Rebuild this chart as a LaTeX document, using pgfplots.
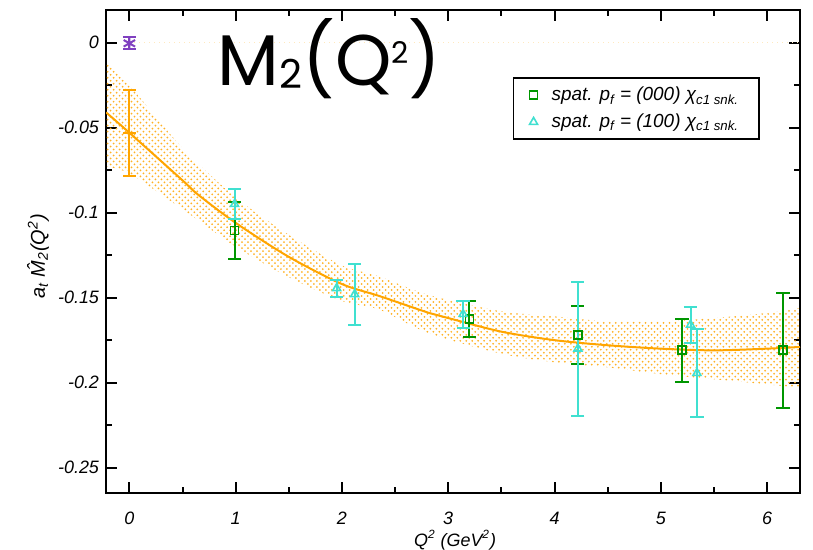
\documentclass[border=0pt]{standalone}
\usepackage{fontspec}
\setmainfont{Liberation Sans}
\newfontfamily\titlefont{Poppins}
\usepackage{pgfplots}
\pgfplotsset{compat=1.18}
\usepgfplotslibrary{fillbetween}
\usetikzlibrary{patterns,calc}

\definecolor{fitor}{RGB}{255,165,0}
\definecolor{sqgreen}{RGB}{0,150,0}
\definecolor{trcyan}{RGB}{64,224,208}
\definecolor{zpurple}{RGB}{128,64,192}

\begin{document}
\begin{tikzpicture}
\begin{axis}[
    scale only axis,
    width=347bp, height=241.5bp,
    xmin=-0.22, xmax=6.31,
    ymin=-0.2649, ymax=0.0192,
    axis line style={line width=1.2bp},
    every tick/.style={black, line width=1bp},
    major tick length=5.5bp,
    minor tick length=3bp,
    tick align=inside,
    xtick={0,1,2,3,4,5,6},
    xticklabels={0,1,2,3,4,5,6},
    ytick={0,-0.05,-0.1,-0.15,-0.2,-0.25},
    yticklabels={0,-0.05,-0.1,-0.15,-0.2,-0.25},
    minor x tick num=1,
    minor y tick num=1,
    tick label style={font=\fontsize{9}{11}\selectfont\itshape},
    xticklabel style={anchor=center, yshift=-12.5bp},
    xlabel={Q\textsuperscript{2} (GeV\textsuperscript{2})},
    ylabel={a\textsubscript{t} \^{M}\textsubscript{2}(Q\textsuperscript{2})},
    xlabel style={font=\fontsize{9}{11}\selectfont\itshape,
        at={(axis description cs:0.503,0)}, anchor=center, yshift=-23.5bp},
    ylabel style={font=\fontsize{10}{12}\selectfont\itshape,
        at={(axis description cs:0,0.49)}, anchor=center, yshift=34bp},
    legend style={at={(0.586,0.861)}, anchor=north west, draw=black,
        line width=0.9bp, font=\fontsize{9.5}{11}\selectfont\itshape,
        row sep=1bp, inner xsep=8bp, inner ysep=2.5bp},
    legend cell align=left,
    error bars/error mark=|,
]

% fit band
\addplot[name path=up, draw=none, smooth, forget plot] coordinates {
    (-0.22,-0.011) (0,-0.025) (0.5,-0.062) (1,-0.091) (1.5,-0.113)
    (2,-0.131) (2.35,-0.1375) (2.82,-0.1485) (3.5,-0.158) (4,-0.161)
    (4.5,-0.164) (5,-0.164) (5.5,-0.162) (6,-0.159) (6.31,-0.156)
};
\addplot[name path=lo, draw=none, smooth, forget plot] coordinates {
    (-0.22,-0.073) (0,-0.077) (0.5,-0.098) (1,-0.120) (1.5,-0.138)
    (2,-0.152) (2.35,-0.157) (2.82,-0.171) (3.5,-0.183) (4,-0.188)
    (4.5,-0.191) (5,-0.195) (5.5,-0.198) (6,-0.201) (6.31,-0.203)
};
\addplot[pattern=crosshatch dots, pattern color=fitor!85, draw=none, forget plot]
    fill between[of=up and lo];

% faint line at zero
\addplot[fitor!25, dotted, line width=0.5bp, forget plot] coordinates {(0,0) (6.31,0)};

% fit curve
\addplot[fitor, line width=1bp, smooth, forget plot] coordinates {
    (-0.22,-0.041) (0,-0.053) (0.5,-0.081) (0.65,-0.0896) (1,-0.106)
    (1.5,-0.126) (2,-0.142) (2.35,-0.149) (2.82,-0.159) (3,-0.162)
    (3.5,-0.170) (4,-0.175) (4.5,-0.178) (5,-0.180) (5.5,-0.181)
    (6,-0.180) (6.31,-0.179)
};

% extrapolated point at Q^2=0
\addplot[fitor, only marks, mark=-, mark size=3.3bp, line width=1bp, forget plot,
    error bars/.cd, y dir=both, y explicit,
    error bar style={line width=1bp, fitor},
    error mark options={line width=1bp, mark size=3.3bp, fitor}]
    coordinates {(0,-0.0533) +- (0,0.0252)};

% forward point
\addplot[zpurple, only marks, mark=asterisk, mark size=3.3bp, line width=1bp, forget plot,
    error bars/.cd, y dir=both, y explicit,
    error bar style={line width=1bp, zpurple},
    error mark options={line width=1bp, mark size=3.3bp, zpurple}]
    coordinates {(0,-0.0004) +- (0,0.0035)};

% p_f = (000)
\addplot[sqgreen, only marks, mark=square, mark size=2bp, line width=0.9bp,
    mark options={draw=sqgreen, solid},
    error bars/.cd, y dir=both, y explicit,
    error bar style={line width=1bp, sqgreen},
    error mark options={line width=1bp, mark size=3.3bp, sqgreen}]
    coordinates {
    (0.99,-0.1105) +- (0,0.017)
    (3.20,-0.1625) +- (0,0.0105)
    (4.22,-0.172) +- (0,0.0172)
    (5.20,-0.181) +- (0,0.0185)
    (6.15,-0.181) +- (0,0.034)
};
\addlegendentry{\hspace{5bp}spat. p\textsubscript{f} = (000) χ\textsubscript{c1 snk.}}

% p_f = (100)
\addplot[trcyan, only marks, mark=triangle, mark size=2.3bp, line width=0.8bp,
    mark options={draw=trcyan, solid},
    error bars/.cd, y dir=both, y explicit,
    error bar style={line width=1bp, trcyan},
    error mark options={line width=1bp, mark size=3.3bp, trcyan}]
    coordinates {
    (0.99,-0.095) +- (0,0.009)
    (1.95,-0.1445) +- (0,0.005)
    (2.12,-0.148) +- (0,0.018)
    (3.14,-0.1597) +- (0,0.008)
    (4.22,-0.180) +- (0,0.0394)
    (5.28,-0.166) +- (0,0.0105)
    (5.34,-0.1944) +- (0,0.026)
};
\addlegendentry{\hspace{5bp}spat. p\textsubscript{f} = (100) χ\textsubscript{c1 snk.}}

\node[anchor=base west, inner sep=0pt] at (axis cs:0.83,-0.025)
    {\titlefont\fontsize{36}{36}\selectfont M\raisebox{-1.5bp}{\fontsize{20}{20}\selectfont 2}(Q\raisebox{11bp}{\fontsize{15}{15}\selectfont 2})};
\end{axis}
\pgfresetboundingbox
\path[use as bounding box] ($(current axis.south west)+(-53bp,-28.5bp)$)
    rectangle ($(current axis.north east)+(6.5bp,5bp)$);
\end{tikzpicture}
\end{document}
